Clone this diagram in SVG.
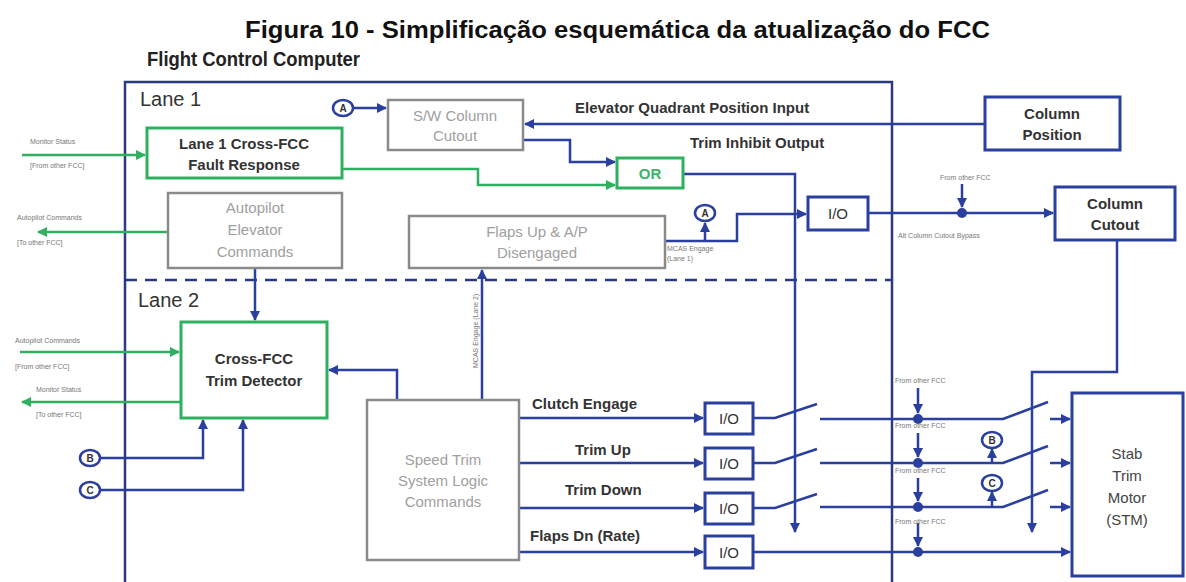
<svg xmlns="http://www.w3.org/2000/svg" width="1186" height="582" viewBox="0 0 1186 582">
<style>
text{font-family:"Liberation Sans",Arial,sans-serif}
.ln{fill:none;stroke:#2a3f9e;stroke-width:2.5}
.gl{fill:none;stroke:#2eb060;stroke-width:2.5}
.bx{fill:#fff;stroke:#2a3f9e;stroke-width:3}
.gb{fill:#fff;stroke:#2eb060;stroke-width:3}
.gy{fill:#fff;stroke:#8a8a8a;stroke-width:2.5}
.t{font-size:15px;font-weight:bold;fill:#333;text-anchor:middle}
.tg{font-size:15px;fill:#a0a0a0;text-anchor:middle}
.s{font-size:7px;fill:#777}
.c{fill:#fff;stroke:#2a3f9e;stroke-width:2.5}
.ct{font-size:10px;fill:#333;text-anchor:middle;font-weight:bold}
.dot{fill:#2a3f9e}
</style>
<defs>
<marker id="ab" viewBox="0 0 10 10" refX="9" refY="5" markerWidth="10" markerHeight="10" markerUnits="userSpaceOnUse" orient="auto"><path d="M0,0L10,5L0,10z" fill="#2a3f9e"/></marker>
<marker id="ag" viewBox="0 0 10 10" refX="9" refY="5" markerWidth="10" markerHeight="10" markerUnits="userSpaceOnUse" orient="auto"><path d="M0,0L10,5L0,10z" fill="#2eb060"/></marker>
</defs>
<rect width="1186" height="582" fill="#fff"/>
<text x="245" y="38" textLength="745" lengthAdjust="spacingAndGlyphs" style="font-size:23px;font-weight:bold;fill:#111">Figura 10 - Simplificação esquemática da atualização do FCC</text>
<text x="147" y="66" textLength="213" lengthAdjust="spacingAndGlyphs" style="font-size:21px;font-weight:bold;fill:#222">Flight Control Computer</text>

<g id="fcc">
<rect x="125" y="82" width="767" height="520" fill="none" stroke="#2b3a7e" stroke-width="2.5"/>
<line x1="125" y1="280" x2="892" y2="280" stroke="#2b3a7e" stroke-width="2.5" stroke-dasharray="12,8"/>
<text x="140" y="106" style="font-size:20px;fill:#333">Lane 1</text>
<text x="138" y="307" style="font-size:20px;fill:#333">Lane 2</text>
</g>

<g id="connectors">
<path class="ln" d="M353,108H386" marker-end="url(#ab)"/>
<path class="ln" d="M985,124H525" marker-end="url(#ab)"/>
<path class="ln" d="M523,140H570V162H615" marker-end="url(#ab)"/>
<path class="gl" d="M342,169H478V185H615" marker-end="url(#ag)"/>
<path class="ln" d="M683,174H795V532" marker-end="url(#ab)"/>
<path class="gl" d="M22,155H145" marker-end="url(#ag)"/>
<path class="gl" d="M168,232H38" marker-end="url(#ag)"/>
<path class="ln" d="M665,241H737V214H806" marker-end="url(#ab)"/>
<path class="ln" d="M705,241V223" marker-end="url(#ab)"/>
<path class="ln" d="M868,213H1053" marker-end="url(#ab)"/>
<path class="ln" d="M962,184V207" marker-end="url(#ab)"/>
<path class="ln" d="M1117,240V372H1032V532" marker-end="url(#ab)"/>
<path class="ln" d="M255,268V320" marker-end="url(#ab)"/>
<path class="gl" d="M20,352H179" marker-end="url(#ag)"/>
<path class="gl" d="M181,402H22" marker-end="url(#ag)"/>
<path class="ln" d="M100,458H203V420" marker-end="url(#ab)"/>
<path class="ln" d="M100,490H243V420" marker-end="url(#ab)"/>
<path class="ln" d="M397,400V370H329" marker-end="url(#ab)"/>
<path class="ln" d="M482,400V270" marker-end="url(#ab)"/>
<path class="ln" d="M519,418H703" marker-end="url(#ab)"/>
<path class="ln" d="M519,463H703" marker-end="url(#ab)"/>
<path class="ln" d="M519,508H703" marker-end="url(#ab)"/>
<path class="ln" d="M519,552H703" marker-end="url(#ab)"/>
<path class="ln" d="M753,418H775L817,404"/>
<path class="ln" d="M753,463H775L817,449"/>
<path class="ln" d="M753,508H775L817,494"/>
<path class="ln" d="M820,419H1003L1048,402"/>
<path class="ln" d="M820,463H1003L1048,446"/>
<path class="ln" d="M820,507H1003L1048,490"/>
<path class="ln" d="M753,552H1070" marker-end="url(#ab)"/>
<path class="ln" d="M1050,419H1070" marker-end="url(#ab)"/>
<path class="ln" d="M1050,463H1070" marker-end="url(#ab)"/>
<path class="ln" d="M1050,507H1070" marker-end="url(#ab)"/>
<path class="ln" d="M918,388V413" marker-end="url(#ab)"/>
<path class="ln" d="M918,433V457" marker-end="url(#ab)"/>
<path class="ln" d="M918,478V501" marker-end="url(#ab)"/>
<path class="ln" d="M918,523V546" marker-end="url(#ab)"/>
<path class="ln" d="M992,463V449" marker-end="url(#ab)"/>
<path class="ln" d="M992,507V492" marker-end="url(#ab)"/>
<circle class="dot" cx="962" cy="213" r="5"/>
<circle class="dot" cx="918" cy="419" r="5"/>
<circle class="dot" cx="918" cy="463" r="5"/>
<circle class="dot" cx="918" cy="507" r="5"/>
<circle class="dot" cx="918" cy="552" r="5"/>
</g>

<g id="labels">
<text x="575" y="113" style="font-size:15px;font-weight:bold;fill:#333">Elevator Quadrant Position Input</text>
<text x="690" y="148" style="font-size:15px;font-weight:bold;fill:#333">Trim Inhibit Output</text>
<text x="30" y="144" class="s">Monitor Status</text>
<text x="30" y="168" class="s">[From other FCC]</text>
<text x="17" y="220" class="s">Autopilot Commands</text>
<text x="17" y="245" class="s">[To other FCC]</text>
<text x="15" y="343" class="s">Autopilot Commands</text>
<text x="15" y="369" class="s">[From other FCC]</text>
<text x="36" y="392" class="s">Monitor Status</text>
<text x="36" y="417" class="s">[To other FCC]</text>
<text x="667" y="251" class="s">MCAS Engage</text>
<text x="667" y="261" class="s">(Lane 1)</text>
<text x="940" y="180" class="s">From other FCC</text>
<text x="898" y="238" class="s">Alt Column Cutout Bypass</text>
<text transform="translate(478,368) rotate(-90)" class="s">MCAS Engage (Lane 2)</text>
<text x="532" y="409" style="font-size:15px;font-weight:bold;fill:#333">Clutch Engage</text>
<text x="575" y="455" style="font-size:15px;font-weight:bold;fill:#333">Trim Up</text>
<text x="565" y="495" style="font-size:15px;font-weight:bold;fill:#333">Trim Down</text>
<text x="530" y="541" style="font-size:15px;font-weight:bold;fill:#333">Flaps Dn (Rate)</text>
<text x="895" y="383" class="s">From other FCC</text>
<text x="895" y="428" class="s">From other FCC</text>
<text x="895" y="473" class="s">From other FCC</text>
<text x="895" y="524" class="s">From other FCC</text>
</g>

<g id="circleA1"><ellipse class="c" cx="343" cy="108" rx="10" ry="8"/><text x="343" y="112" class="ct">A</text></g>
<g id="circleA2"><ellipse class="c" cx="705" cy="213" rx="10" ry="8"/><text x="705" y="217" class="ct">A</text></g>
<g id="circleB1"><ellipse class="c" cx="90" cy="458" rx="10" ry="8"/><text x="90" y="462" class="ct">B</text></g>
<g id="circleC1"><ellipse class="c" cx="90" cy="490" rx="10" ry="8"/><text x="90" y="494" class="ct">C</text></g>
<g id="circleB2"><ellipse class="c" cx="992" cy="440" rx="10" ry="8"/><text x="992" y="444" class="ct">B</text></g>
<g id="circleC2"><ellipse class="c" cx="992" cy="483" rx="10" ry="8"/><text x="992" y="487" class="ct">C</text></g>

<g id="swColumnCutout"><rect class="gy" x="388" y="100" width="135" height="50"/><text x="455" y="121" class="tg">S/W Column</text><text x="455" y="141" class="tg">Cutout</text></g>
<g id="faultResponse"><rect class="gb" x="147" y="128" width="195" height="50"/><text x="244" y="149" class="t">Lane 1 Cross-FCC</text><text x="244" y="170" class="t">Fault Response</text></g>
<g id="or"><rect class="gb" x="617" y="158" width="66" height="30"/><text x="650" y="179" style="font-size:15px;font-weight:bold;fill:#3cb46a;text-anchor:middle">OR</text></g>
<g id="columnPosition"><rect class="bx" x="985" y="97" width="135" height="53"/><text x="1052" y="119" class="t">Column</text><text x="1052" y="140" class="t">Position</text></g>
<g id="autopilotElevator"><rect class="gy" x="168" y="193" width="174" height="75"/><text x="255" y="213" class="tg">Autopilot</text><text x="255" y="235" class="tg">Elevator</text><text x="255" y="257" class="tg">Commands</text></g>
<g id="flapsUp"><rect class="gy" x="409" y="216" width="256" height="52"/><text x="537" y="237" class="tg">Flaps Up &amp; A/P</text><text x="537" y="258" class="tg">Disengaged</text></g>
<g id="io1"><rect class="bx" x="808" y="197" width="60" height="33"/><text x="838" y="219" class="t" style="font-weight:normal">I/O</text></g>
<g id="columnCutout"><rect class="bx" x="1055" y="187" width="120" height="53"/><text x="1115" y="209" class="t">Column</text><text x="1115" y="230" class="t">Cutout</text></g>
<g id="trimDetector"><rect class="gb" x="181" y="322" width="146" height="96"/><text x="254" y="364" class="t">Cross-FCC</text><text x="254" y="386" class="t">Trim Detector</text></g>
<g id="speedTrim"><rect class="gy" x="367" y="400" width="152" height="160"/><text x="443" y="465" class="tg">Speed Trim</text><text x="443" y="486" class="tg">System Logic</text><text x="443" y="507" class="tg">Commands</text></g>
<g id="ioClutch"><rect class="bx" x="705" y="403" width="48" height="31"/><text x="729" y="424" class="t" style="font-weight:normal">I/O</text></g>
<g id="ioTrimUp"><rect class="bx" x="705" y="448" width="48" height="31"/><text x="729" y="469" class="t" style="font-weight:normal">I/O</text></g>
<g id="ioTrimDown"><rect class="bx" x="705" y="493" width="48" height="31"/><text x="729" y="514" class="t" style="font-weight:normal">I/O</text></g>
<g id="ioFlaps"><rect class="bx" x="705" y="536" width="48" height="32"/><text x="729" y="558" class="t" style="font-weight:normal">I/O</text></g>
<g id="stm"><rect class="bx" x="1072" y="393" width="111" height="183"/><text x="1127" y="459" class="tg" style="fill:#444">Stab</text><text x="1127" y="481" class="tg" style="fill:#444">Trim</text><text x="1127" y="503" class="tg" style="fill:#444">Motor</text><text x="1127" y="525" class="tg" style="fill:#444">(STM)</text></g>
</svg>
